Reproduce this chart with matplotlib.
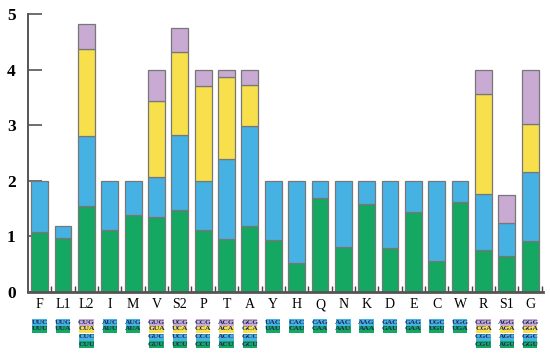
import matplotlib
matplotlib.use("Agg")
import matplotlib.pyplot as plt
import matplotlib.transforms as mtransforms
from matplotlib.patches import Rectangle
import numpy as np

aminoacids = ["F", "L1", "L2", "I", "M", "V", "S2", "P", "T", "A", "Y", "H",
              "Q", "N", "K", "D", "E", "C", "W", "R", "S1", "G"]

# segment heights (bottom -> top): U-ending, C-ending, A-ending, G-ending
seg_green = [1.08, 0.97, 1.54, 1.11, 1.38, 1.35, 1.47, 1.12, 0.95, 1.19, 0.94, 0.53,
             1.69, 0.81, 1.59, 0.79, 1.43, 0.56, 1.61, 0.76, 0.64, 0.92]
seg_blue = [0.92, 0.22, 1.27, 0.89, 0.62, 0.72, 1.36, 0.88, 1.45, 1.79, 1.06, 1.47,
            0.31, 1.19, 0.41, 1.21, 0.57, 1.44, 0.39, 1.00, 0.60, 1.23]
seg_yellow = [0, 0, 1.56, 0, 0, 1.36, 1.48, 1.70, 1.46, 0.75, 0, 0,
              0, 0, 0, 0, 0, 0, 0, 1.81, 0, 0.88]
seg_purple = [0, 0, 0.45, 0, 0, 0.57, 0.44, 0.30, 0.14, 0.27, 0, 0,
              0, 0, 0, 0, 0, 0, 0, 0.43, 0.50, 0.97]

codons = [
    ["UUC", "UUU"], ["UUG", "UUA"], ["CUG", "CUA", "CUC", "CUU"], ["AUC", "AUU"],
    ["AUG", "AUA"], ["GUG", "GUA", "GUC", "GUU"], ["UCG", "UCA", "UCC", "UCU"],
    ["CCG", "CCA", "CCC", "CCU"], ["ACG", "ACA", "ACC", "ACU"], ["GCG", "GCA", "GCC", "GCU"],
    ["UAC", "UAU"], ["CAC", "CAU"], ["CAG", "CAA"], ["AAC", "AAU"], ["AAG", "AAA"],
    ["GAC", "GAU"], ["GAG", "GAA"], ["UGC", "UGU"], ["UGG", "UGA"],
    ["CGG", "CGA", "CGC", "CGU"], ["AGG", "AGA", "AGC", "AGU"], ["GGG", "GGA", "GGC", "GGU"],
]

GREEN = "#14a862"
BLUE = "#46b2e3"
YELLOW = "#f8e04c"
PURPLE = "#c8aad2"
EDGE = "#777777"

fig = plt.figure(figsize=(5.5, 3.62), dpi=100)
ax = fig.add_axes([28 / 550, 70 / 362, 515 / 550, 278 / 362])

x = np.arange(len(aminoacids))
w = 0.72
bottom = np.zeros(len(x))
for seg, col in [(seg_green, GREEN), (seg_blue, BLUE), (seg_yellow, YELLOW), (seg_purple, PURPLE)]:
    seg = np.array(seg)
    ax.bar(x, seg, w, bottom=bottom, color=col, edgecolor=np.where(seg > 0, EDGE, "none"),
           linewidth=0.9, zorder=2)
    bottom += seg

ax.set_xlim(-0.5, 21.55)
ax.set_ylim(0, 5)
ax.set_axisbelow(True)

for s in ["top", "right"]:
    ax.spines[s].set_visible(False)
ax.spines["left"].set_color("#555555")
ax.spines["left"].set_linewidth(1.4)
ax.spines["bottom"].set_color("#555555")
ax.spines["bottom"].set_linewidth(2)

ax.set_yticks(range(6))
ax.set_yticklabels([str(i) for i in range(6)], fontfamily="Liberation Serif",
                   fontweight="bold", fontsize=12.5)
ax.tick_params(axis="y", direction="in", length=10, width=1.2, color="#555555", pad=9)

ax.set_xticks(x)
ax.set_xticklabels(aminoacids, fontfamily="Liberation Serif", fontsize=10)
ax.tick_params(axis="x", length=0, pad=4.5)
ax.set_xticks(np.arange(0.5, 22, 1), minor=True)
ax.tick_params(axis="x", which="minor", direction="in", length=4, width=1, color="#444444")

# codon boxes under each amino acid
box_color = {"G": PURPLE, "A": YELLOW, "C": BLUE, "U": GREEN}
trans = mtransforms.blended_transform_factory(ax.transData, fig.transFigure)
row_y = [322, 329, 337, 344]
bw = 0.62
bh = 7.0 / 362
for i, cods in enumerate(codons):
    for r, cod in enumerate(cods):
        if len(cods) == 2:
            col = BLUE if r == 0 else GREEN
        else:
            col = box_color[cod[-1]]
        yc = 1 - row_y[r] / 362
        ax.add_patch(Rectangle((i - bw / 2, yc - bh / 2), bw, bh, transform=trans,
                               facecolor=col, edgecolor="none", clip_on=False))
        ax.text(i, yc, cod, transform=trans, ha="center", va="center",
                fontsize=5.4, fontweight="bold", fontfamily="Liberation Serif",
                color="#1c2b5e", clip_on=False)

fig.savefig("out.png", dpi=100)
